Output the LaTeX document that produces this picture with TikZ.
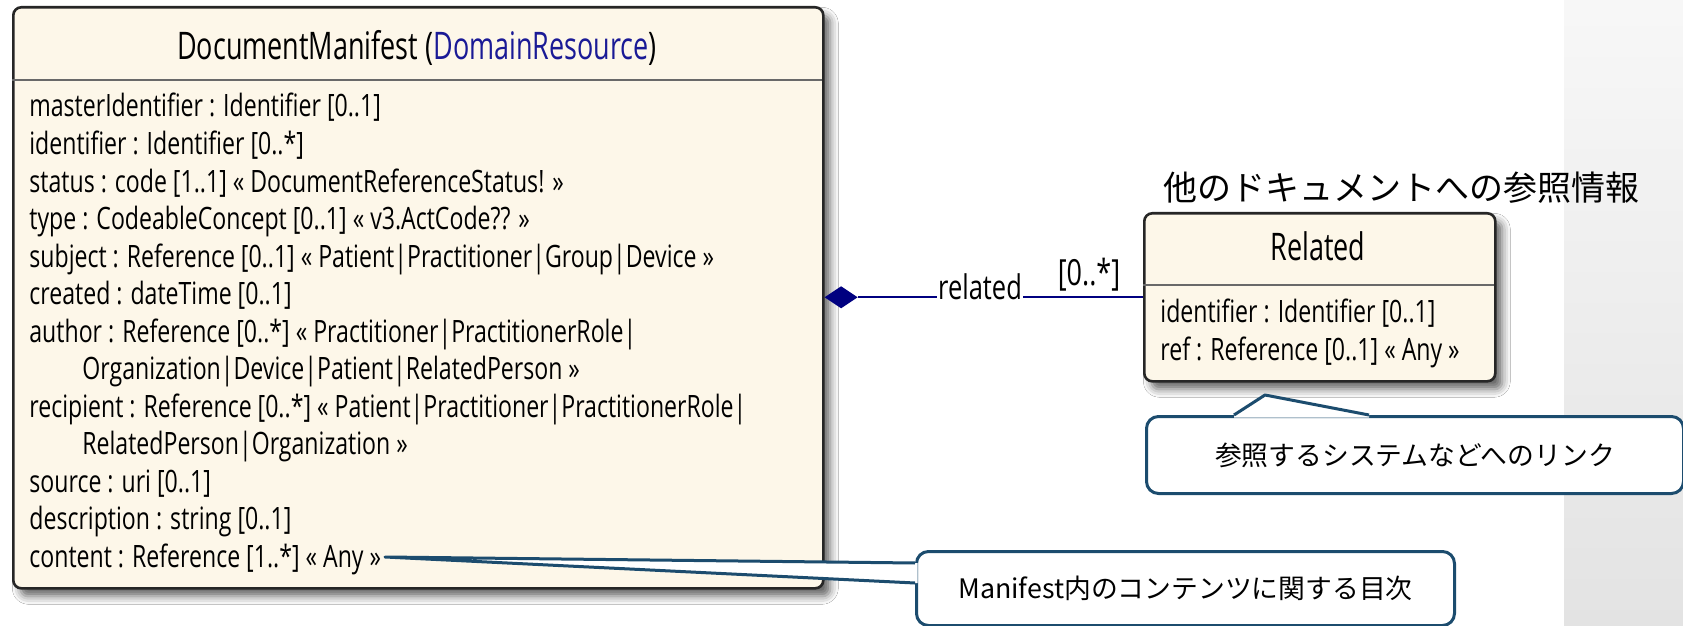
\documentclass[tikz,border=0pt]{standalone}
\usepackage{fontspec}
\usetikzlibrary{shadows.blur}
\newfontfamily\umlattrfont[FakeStretch=0.75]{Open Sans}
\newfontfamily\umltitlefont[FakeStretch=0.71]{Open Sans}
\newfontfamily\jpfont{Noto Sans CJK JP}
\definecolor{cream}{RGB}{253,247,233}
\definecolor{boxborder}{RGB}{38,38,38}
\definecolor{divgrey}{RGB}{105,105,105}
\definecolor{linkblue}{RGB}{26,26,150}
\definecolor{assoc}{RGB}{0,0,128}
\definecolor{callblue}{RGB}{28,76,110}
\begin{document}
\begin{tikzpicture}[x=0.5pt,y=-0.5pt,
  umlbox/.style={draw=boxborder, line width=1.3pt, fill=cream, rounded corners=4pt,
    blur shadow={shadow xshift=3.5pt, shadow yshift=-4pt, shadow blur radius=4pt, shadow opacity=60},
    inner sep=0pt, anchor=north west},
  divider/.style={draw=divgrey, line width=1pt},
  umltitle/.style={font=\umltitlefont\fontsize{19}{21}\selectfont, anchor=base, inner sep=0pt},
  attr/.style={font=\umlattrfont\fontsize{15.4}{17}\selectfont, anchor=base west, inner sep=0pt},
  assoclabel/.style={font=\umlattrfont\fontsize{17}{19}\selectfont, inner sep=0.5pt},
  callout/.style={draw=callblue, line width=1.5pt, fill=white, rounded corners=6pt,
    inner sep=0pt, anchor=north west, font=\jpfont\fontsize{13.4}{15}\selectfont},
  pointer/.style={draw=callblue, line width=1.5pt, line join=round},
  jphead/.style={font=\jpfont\fontsize{17}{19}\selectfont, inner sep=0pt}
]
\useasboundingbox (0,0) rectangle (1683,626);
\fill[white] (0,0) rectangle (1683,626);
\shade[top color=white!97!black, bottom color=white!89!black] (1564,0) rectangle (1683,626);

% DocumentManifest class
\node[umlbox, minimum width=405pt, minimum height=290.5pt] (dm) at (12,6) {};
\draw[divider] (12,80) -- (822,80);
\node[umltitle] (dmtitle) at (417,60) {DocumentManifest (\textcolor{linkblue}{DomainResource})};
\node[attr] (a1) at (29,117) {masterIdentifier : Identifier [0..1]};
\node[attr] (a2) at (29,154.5) {identifier : Identifier [0..*]};
\node[attr] (a3) at (29,192) {status : code [1..1] « DocumentReferenceStatus! »};
\node[attr] (a4) at (29,229.5) {type : CodeableConcept [0..1] « v3.ActCode?? »};
\node[attr] (a5) at (29,267) {subject : Reference [0..1] « Patient|Practitioner|Group|Device »};
\node[attr] (a6) at (29,304.5) {created : dateTime [0..1]};
\node[attr] (a7) at (29,342) {author : Reference [0..*] « Practitioner|PractitionerRole|};
\node[attr] (a8) at (82,379.5) {Organization|Device|Patient|RelatedPerson »};
\node[attr] (a9) at (29,417) {recipient : Reference [0..*] « Patient|Practitioner|PractitionerRole|};
\node[attr] (a10) at (82,454.5) {RelatedPerson|Organization »};
\node[attr] (a11) at (29,492) {source : uri [0..1]};
\node[attr] (a12) at (29,529.5) {description : string [0..1]};
\node[attr] (a13) at (29,567) {content : Reference [1..*] « Any »};

% Related class
\node[umlbox, minimum width=175.5pt, minimum height=84pt] (rel) at (1143,212) {};
\draw[divider] (1143,285) -- (1494,285);
\node[umltitle] (reltitle) at (1318,261) {Related};
\node[attr] (r1) at (1160,322) {identifier : Identifier [0..1]};
\node[attr] (r2) at (1160,360) {ref : Reference [0..1] « Any »};

% association
\fill[assoc] (dm.east |- rel.west) -- ++(16.5,-11) -- ++(16.5,11) -- ++(-16.5,11) -- cycle;
\draw[assoc, line width=1.1pt] (dm.east |- rel.west) ++(33,0) coordinate (diamtip) -- (rel.west);
\node[assoclabel, fill=white] (rellabel) at (980,287) {related};
\node[assoclabel, font=\umlattrfont\fontsize{18}{20}\selectfont] (mult) at (1089,275) {[0..*]};

% heading
\node[jphead] (head) at (1401,188) {他のドキュメントへの参照情報};

% callout 1
\node[callout, minimum width=268.5pt, minimum height=38.5pt] (c1) at (1145,415) {参照するシステムなどへのリンク};
\fill[white] (1234,417.6) -- (1234,415) -- (1265,395) -- (1369,415) -- (1369,417.6) -- cycle;
\draw[pointer] (1234,415) -- (1265,395) -- (1369,415);

% callout 2
\node[callout, minimum width=269pt, minimum height=37pt] (c2) at (915,550) {Manifest内のコンテンツに関する目次};
\coordinate (c2apex) at (385,557);
\fill[white] (917.6,563) -- (915,563) -- (c2apex) -- (915,583) -- (917.6,583) -- cycle;
\draw[pointer] (915,563) -- (c2apex) -- (915,583);
\end{tikzpicture}
\end{document}
